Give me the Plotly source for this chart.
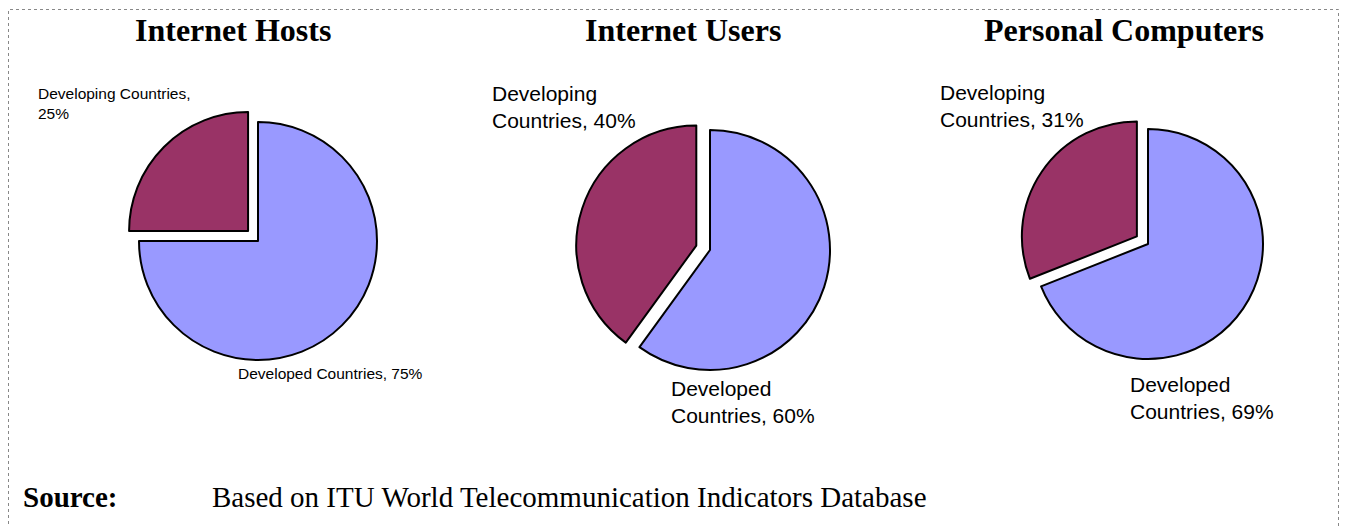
import plotly.graph_objects as go

# ---- data ----
titles = ["Internet Hosts", "Internet Users", "Personal Computers"]
categories = ["Developed Countries", "Developing Countries"]
developed = [75, 60, 69]
developing = [25, 40, 31]
source_label = "Source:"
source_text = "Based on ITU World Telecommunication Indicators Database"

# ---- layout constants (pixels) ----
W, H = 1348, 526
colors = ["#9999FF", "#993366"]
pie_centers = [(258, 241), (710, 250), (1148, 244)]
pie_radii = [119, 120, 115]
pulls = [0.118, 0.12, 0.117]
SANS = "Liberation Sans, Arial, sans-serif"
SERIF = "Liberation Serif, Times New Roman, serif"

def px(x):
    return x / W

def py(y):
    return 1 - y / H

fig = go.Figure()
for i in range(3):
    cx, cy = pie_centers[i]
    r = pie_radii[i]
    half = r * (1 + pulls[i])
    fig.add_trace(go.Pie(
        labels=categories,
        values=[developed[i], developing[i]],
        sort=False,
        direction="clockwise",
        rotation=0,
        pull=[0, pulls[i]],
        marker=dict(colors=colors, line=dict(color="black", width=2)),
        textinfo="none",
        showlegend=False,
        domain=dict(x=[px(cx - half), px(cx + half)],
                    y=[py(cy + half), py(cy - half)]),
    ))

annotations = []
# titles
title_x = [233, 683, 1124]
for t, x in zip(titles, title_x):
    annotations.append(dict(text=f"<b>{t}</b>", x=px(x), y=py(10), xref="paper", yref="paper",
                            xanchor="center", yanchor="top", showarrow=False,
                            font=dict(family=SERIF, size=32, color="black")))

# slice labels: (pie, slice index in categories, x_left, y_top, size, wrap style)
label_specs = [
    (0, 1, 36, 83, 15.5, "one"),
    (0, 0, 236, 363, 15.5, "none"),
    (1, 1, 490, 80, 21, "two"),
    (1, 0, 669, 375, 21, "two"),
    (2, 1, 938, 79, 21, "two"),
    (2, 0, 1128, 371, 21, "two"),
]
for pie, sl, x, y, size, wrap in label_specs:
    val = developed[pie] if sl == 0 else developing[pie]
    word = categories[sl].split(" ")[0]
    if wrap == "one":
        txt = f"{categories[sl]},<br>{val}%"
    elif wrap == "none":
        txt = f"{categories[sl]}, {val}%"
    else:
        txt = f"{word}<br>Countries, {val}%"
    annotations.append(dict(text=txt, x=px(x), y=py(y), xref="paper", yref="paper",
                            xanchor="left", yanchor="top", align="left", showarrow=False,
                            font=dict(family=SANS, size=size, color="black")))

# source line
annotations.append(dict(text=f"<b>{source_label}</b>", x=px(21), y=py(479), xref="paper", yref="paper",
                        xanchor="left", yanchor="top", showarrow=False,
                        font=dict(family=SERIF, size=29, color="black")))
annotations.append(dict(text=source_text, x=px(210), y=py(479), xref="paper", yref="paper",
                        xanchor="left", yanchor="top", showarrow=False,
                        font=dict(family=SERIF, size=29, color="black")))

fig.update_layout(
    width=W, height=H,
    margin=dict(l=0, r=0, t=0, b=0),
    paper_bgcolor="white",
    plot_bgcolor="white",
    annotations=annotations,
    shapes=[dict(type="rect", xref="paper", yref="paper",
                 x0=px(8.5), x1=px(1338.5), y0=py(540), y1=py(9.5),
                 line=dict(color="#888888", width=1, dash="dot"))],
)

fig.write_html("out.html")
